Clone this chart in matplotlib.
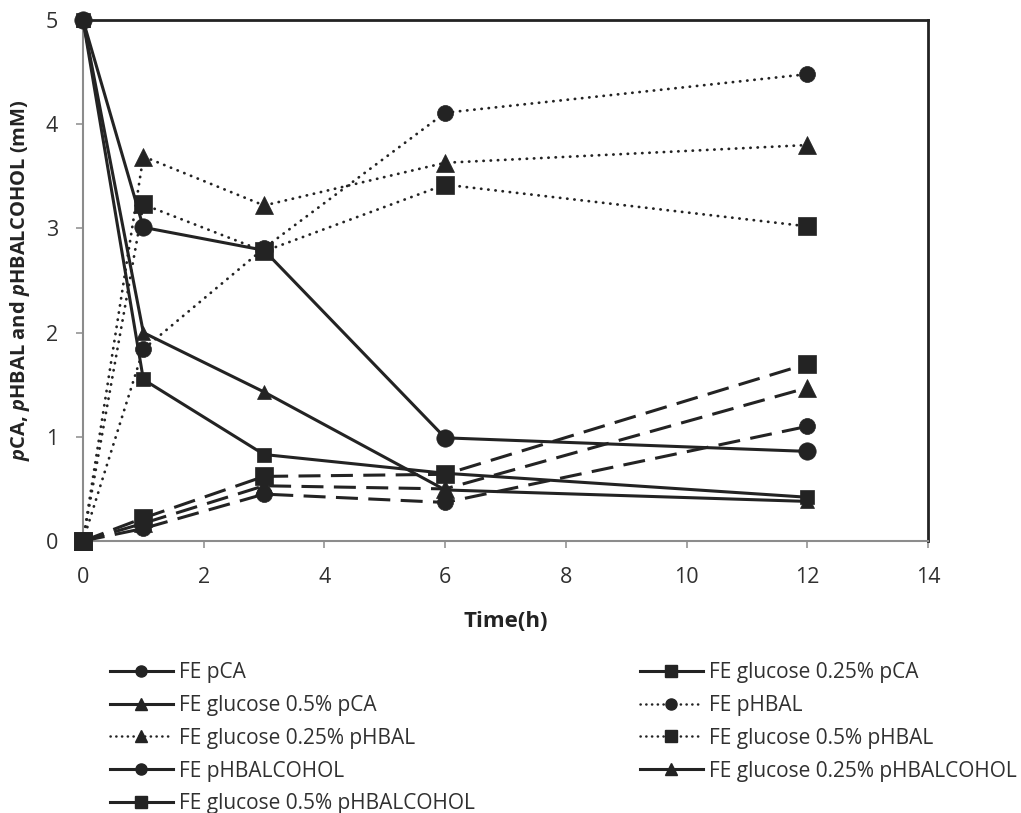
import matplotlib
matplotlib.use("Agg")
import matplotlib.pyplot as plt
from matplotlib.lines import Line2D

plt.rcParams['font.family'] = ['Open Sans', 'DejaVu Sans']
plt.rcParams['mathtext.fontset'] = 'custom'
plt.rcParams['mathtext.it'] = 'Open Sans:italic:bold'
plt.rcParams['mathtext.rm'] = 'Open Sans:bold'

# ---- data ----
time_h = [0, 1, 3, 6, 12]

fe_pca = [5, 3.01, 2.79, 0.99, 0.86]
glc025_pca = [5, 1.55, 0.83, 0.65, 0.42]
glc05_pca = [5, 2.00, 1.43, 0.49, 0.38]

fe_phbal = [0, 1.84, 2.81, 4.11, 4.48]
glc025_phbal = [0, 3.69, 3.22, 3.63, 3.80]
glc05_phbal = [0, 3.23, 2.78, 3.42, 3.02]

fe_phbalc = [0, 0.12, 0.45, 0.37, 1.10]
glc025_phbalc = [0, 0.17, 0.53, 0.50, 1.47]
glc05_phbalc = [0, 0.22, 0.62, 0.64, 1.70]

labels = ['FE pCA', 'FE glucose 0.25% pCA', 'FE glucose 0.5% pCA',
          'FE pHBAL', 'FE glucose 0.25% pHBAL', 'FE glucose 0.5% pHBAL',
          'FE pHBALCOHOL', 'FE glucose 0.25% pHBALCOHOL', 'FE glucose 0.5% pHBALCOHOL']
x_ticks = [0, 2, 4, 6, 8, 10, 12, 14]
y_ticks = [0, 1, 2, 3, 4, 5]

C = '#232323'
GRAY = '#8c8c8c'
W, H = 1021, 813

fig = plt.figure(figsize=(W / 100, H / 100), dpi=100)
ax = fig.add_axes([83 / W, 1 - 541 / H, (928 - 83) / W, (541 - 20) / H])

solid = dict(linestyle='-', linewidth=2.2)
dotted = dict(linestyle=(0, (0.1, 2.5)), linewidth=2.0, dash_capstyle='round')
dashed = dict(linestyle=(0, (7.2, 3.4)), linewidth=2.2)

series = [
    (fe_pca, 'o', 12.5, solid),
    (glc025_pca, 's', 9.8, solid),
    (glc05_pca, '^', 9.8, solid),
    (fe_phbal, 'o', 11.5, dotted),
    (glc025_phbal, '^', 13, dotted),
    (glc05_phbal, 's', 12.5, dotted),
    (fe_phbalc, 'o', 11.5, dashed),
    (glc025_phbalc, '^', 13, dashed),
    (glc05_phbalc, 's', 12.5, dashed),
]

for vals, mk, ms, st in series:
    ax.plot(time_h, vals, color=C, marker=mk, markersize=ms,
            markerfacecolor=C, markeredgecolor=C, markeredgewidth=0.5,
            clip_on=False, zorder=3, **st)

ax.set_xlim(0, 14)
ax.set_ylim(0, 5)
ax.set_xticks(x_ticks)
ax.set_yticks(y_ticks)
ax.set_xticklabels([str(v) for v in x_ticks])
ax.set_yticklabels([str(v) for v in y_ticks])

for s in ['left', 'bottom']:
    ax.spines[s].set_color(GRAY)
    ax.spines[s].set_linewidth(1.5)
for s in ['top', 'right']:
    ax.spines[s].set_color(C)
    ax.spines[s].set_linewidth(2.0)

ax.tick_params(axis='both', direction='out', length=5, width=1.1, color=GRAY,
               labelsize=15.5, labelcolor='#303030')
ax.tick_params(axis='x', pad=14)
ax.tick_params(axis='y', pad=13)

ax.set_xlabel('Time(h)', fontsize=16, fontweight='bold', color=C, labelpad=16)
ax.set_ylabel(r'$p$CA, $p$HBAL and $p$HBALCOHOL (mM)', fontsize=14.5,
              fontweight='bold', color=C, labelpad=10)

# legend handles (pHBALCOHOL shown solid, as in the reference)
leg_styles = [
    ('o', '-'), ('s', '-'), ('^', '-'),
    ('o', ':'), ('^', ':'), ('s', ':'),
    ('o', '-'), ('^', '-'), ('s', '-'),
]
handles = []
for (mk, ls), lab in zip(leg_styles, labels):
    if ls == ':':
        h = Line2D([], [], color=C, marker=mk, markersize=8, linewidth=1.8,
                   linestyle=(0, (0.1, 2.2)), dash_capstyle='round', label=lab)
    else:
        h = Line2D([], [], color=C, marker=mk, markersize=8, linewidth=2.2,
                   linestyle='-', label=lab)
    handles.append(h)

col1 = [handles[i] for i in (0, 2, 4, 6, 8)]
col2 = [handles[i] for i in (1, 3, 5, 7)]
common = dict(loc='upper left', frameon=False, fontsize=15, handlelength=3.0,
              handletextpad=0.3, labelspacing=0.57, borderpad=0, borderaxespad=0,
              labelcolor='#303030')
leg1 = fig.legend(handles=col1, bbox_to_anchor=(110 / W, 1 - 662 / H), **common)
leg2 = fig.legend(handles=col2, bbox_to_anchor=(640 / W, 1 - 662 / H), **common)

fig.savefig('out.png', dpi=100)
